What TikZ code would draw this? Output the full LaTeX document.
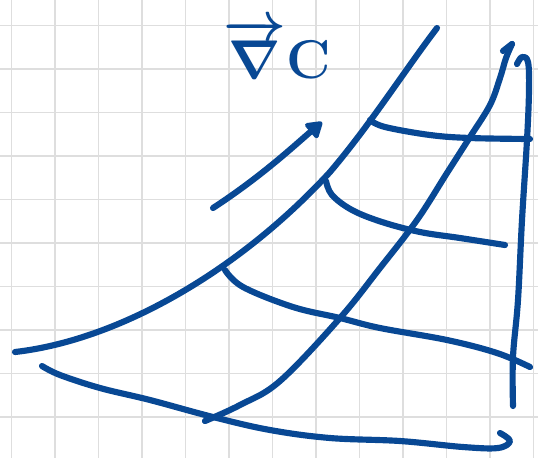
\documentclass[tikz,border=0pt]{standalone}
\usepackage{amsmath,amssymb}
\usepackage{graphicx}
\usepackage{xcolor}
\usetikzlibrary{arrows.meta}
\definecolor{inkblue}{RGB}{8,72,148}
\definecolor{gridgray}{RGB}{222,222,222}

\begin{document}
\begin{tikzpicture}[
    x=0.02cm, y=-0.02cm,
    gridline/.style={draw=gridgray, line width=0.9pt},
    pen/.style={draw=inkblue, line width=3.5pt, line cap=round, line join=round},
    arr/.style={pen, -{Triangle[length=10pt, width=12pt, round]}}
]
% paper
\fill[white] (0,0) rectangle (538,458);
\useasboundingbox (0,0) rectangle (538,458);
\foreach \i in {0,...,12} \draw[gridline] ({11.5+43.5*\i},0) -- ({11.5+43.5*\i},458);
\foreach \j in {0,...,9} \draw[gridline] (0,{25.5+43.5*\j}) -- (538,{25.5+43.5*\j});

% gradient label and arrow
\node[text=inkblue, inner sep=0pt, font=\Huge\boldmath] (lbl) at (277,49) {\scalebox{1.25}{$\overrightarrow{\nabla}\mathrm{C}$}};
\coordinate (tail) at (213,208);
\coordinate (tip) at (322,122);
\draw[arr] (tail) .. controls (262,176) and (295,145) .. (tip);

% curves running up
\draw[pen] (15,352) .. controls (120,340) and (240,270) .. (330,172)
    .. controls (370,125) and (405,70) .. (437,28);
\draw[pen] plot[smooth, tension=0.6] coordinates {(205,421) (240,405) (280,381) (340,318) (380,268) (417,220) (447,173) (470,137) (490,105) (500,78) (506,58) (512,44)};
\draw[pen] (512,44) -- (503,51);
\draw[pen] plot[smooth, tension=0.6] coordinates {(517,64) (522,57) (528,62) (529,90) (527,140) (522,220) (518,300) (513,357) (513,406)};

% cross strokes
\draw[pen] plot[smooth, tension=0.6] coordinates {(370,120) (385,127) (430,135) (470,138) (530,139)};
\draw[pen] plot[smooth, tension=0.6] coordinates {(326,181) (332,195) (352,210) (382,222) (420,232) (460,238) (505,245)};
\draw[pen] plot[smooth, tension=0.6] coordinates {(225,270) (243,287) (293,307) (340,318) (380,328) (447,340) (497,353) (530,367)};
\draw[pen] plot[smooth, tension=0.6] coordinates {(42,366) (60,375) (100,388) (150,400) (213,417) (270,430) (330,438) (400,441) (463,447) (498,448) (510,441) (500,433)};
\end{tikzpicture}
\end{document}
